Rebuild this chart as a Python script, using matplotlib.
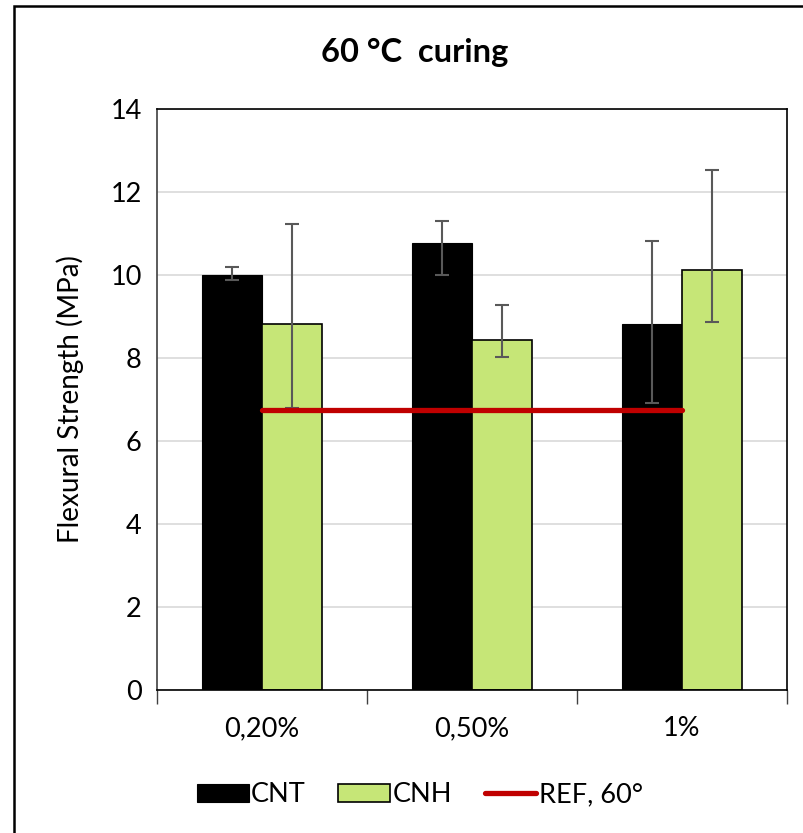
import matplotlib.pyplot as plt
import numpy as np
from matplotlib.patches import Rectangle

plt.rcParams['font.family'] = ['Lato', 'DejaVu Sans']

categories = ["0,20%", "0,50%", "1%"]
cnt = [10.0, 10.77, 8.83]
cnt_err_low = [0.12, 0.78, 1.92]
cnt_err_up = [0.19, 0.53, 1.99]
cnh = [8.81, 8.44, 10.12]
cnh_err_low = [2.01, 0.42, 1.26]
cnh_err_up = [2.41, 0.83, 2.40]
ref_60 = [6.74, 6.74, 6.74]

fig = plt.figure(figsize=(8.04, 8.33), dpi=100)
ax = fig.add_axes([0.1953, 0.1717, 0.7836, 0.6974])

x = np.arange(len(categories))
w = 0.285
err_kw = dict(ecolor="#595959", elinewidth=1.5, capsize=5, capthick=1.5)

b1 = ax.bar(x - w / 2, cnt, w, color="black", edgecolor="black", linewidth=0.8,
            yerr=[cnt_err_low, cnt_err_up], error_kw=err_kw, label="CNT", zorder=2)
b2 = ax.bar(x + w / 2, cnh, w, color="#c6e677", edgecolor="black", linewidth=1.2,
            yerr=[cnh_err_low, cnh_err_up], error_kw=err_kw, label="CNH", zorder=2)
ln, = ax.plot(x, ref_60, color="#c00000", linewidth=3.8, solid_capstyle="round",
              label="REF, 60°", zorder=3)

ax.set_xlim(-0.5, 2.5)
ax.set_ylim(0, 14)
ax.set_yticks(np.arange(0, 15, 2))
ax.set_xticks(x)
ax.set_xticklabels(categories)
ax.set_xticks([-0.5, 0.5, 1.5, 2.5], minor=True)
ax.tick_params(axis="x", which="major", length=0, labelsize=19.5, pad=19)
ax.tick_params(axis="x", which="minor", length=10, width=1, color="#404040", direction="out")
ax.tick_params(axis="y", length=0, labelsize=19.5, pad=11)
ax.yaxis.grid(True, color="#d9d9d9", linewidth=1.2, zorder=0)
ax.set_axisbelow(True)
for s in ax.spines.values():
    s.set_color("black")
    s.set_linewidth(1.2)
ax.spines["left"].set_color("#404040")

ax.set_ylabel("Flexural Strength (MPa)", fontsize=20, labelpad=19)

fig.text(415 / 804, 1 - 52 / 833, "60 °C  curing", ha="center", va="center",
         fontsize=23.5, fontweight="bold")

fig.legend([b1, b2, ln], ["CNT", "CNH", "REF, 60°"], loc="center",
           bbox_to_anchor=(420 / 804, 1 - 795 / 833), ncol=3,
           frameon=False, fontsize=19.5, handlelength=1.9, handleheight=0.6,
           columnspacing=1.2, handletextpad=0.1)

fig.patches.append(Rectangle((14 / 804, -0.1), 1.2, 1 - 6 / 833 + 0.1,
                             transform=fig.transFigure, fill=False,
                             edgecolor="black", linewidth=1.8))

fig.savefig("out.png", dpi=100)
